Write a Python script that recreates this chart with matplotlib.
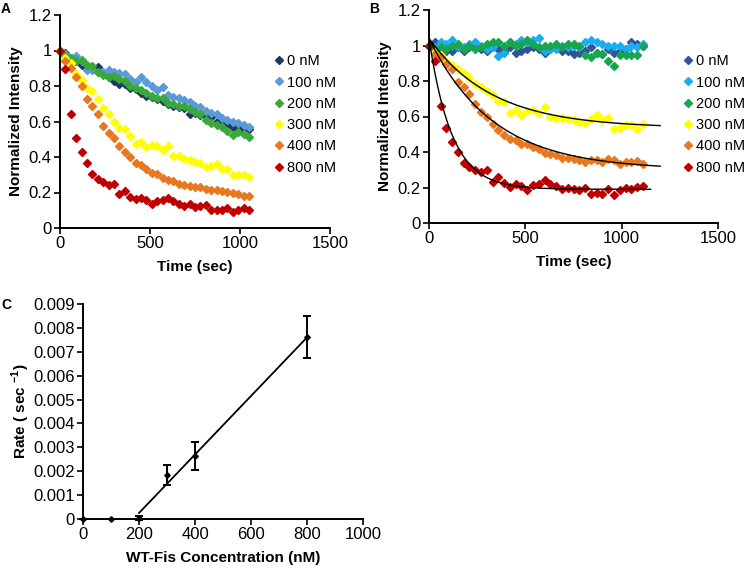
import matplotlib
matplotlib.use('Agg')
import matplotlib.pyplot as plt
import numpy as np

plt.rcParams['font.family'] = ['Liberation Sans', 'DejaVu Sans']
plt.rcParams['mathtext.fontset'] = 'custom'
plt.rcParams['mathtext.rm'] = 'Liberation Sans'
plt.rcParams['mathtext.bf'] = 'Liberation Sans:bold'
plt.rcParams['font.size'] = 11

labels = ['0 nM', '100 nM', '200 nM', '300 nM', '400 nM', '800 nM']

# ---- panel A: time course, 30 s steps up to 1050 s
time_a = list(range(0, 1051, 30))
a_0 = [1.0, 0.985, 0.96, 0.94, 0.92, 0.91, 0.90, 0.905, 0.87, 0.85, 0.83, 0.81,
       0.81, 0.79, 0.785, 0.76, 0.745, 0.74, 0.725, 0.715, 0.70, 0.69, 0.68, 0.675,
       0.645, 0.65, 0.635, 0.63, 0.625, 0.60, 0.59, 0.58, 0.57, 0.565, 0.56, 0.56]
a_100 = [1.0, 0.98, 0.96, 0.97, 0.94, 0.89, 0.89, 0.88, 0.88, 0.89, 0.88, 0.875,
         0.87, 0.84, 0.82, 0.85, 0.82, 0.80, 0.78, 0.795, 0.75, 0.74, 0.73, 0.72,
         0.71, 0.69, 0.68, 0.66, 0.65, 0.64, 0.62, 0.61, 0.60, 0.59, 0.58, 0.57]
a_200 = [1.0, 0.97, 0.96, 0.94, 0.945, 0.92, 0.915, 0.88, 0.86, 0.85, 0.855, 0.84,
         0.83, 0.80, 0.79, 0.78, 0.76, 0.745, 0.735, 0.73, 0.705, 0.70, 0.69, 0.685,
         0.67, 0.655, 0.64, 0.61, 0.59, 0.58, 0.57, 0.545, 0.525, 0.54, 0.53, 0.515]
a_300 = [1.0, 0.957, 0.93, 0.87, 0.835, 0.79, 0.77, 0.726, 0.675, 0.64, 0.60, 0.566,
         0.557, 0.52, 0.475, 0.482, 0.454, 0.465, 0.463, 0.44, 0.46, 0.407, 0.403, 0.388,
         0.385, 0.373, 0.366, 0.343, 0.347, 0.36, 0.334, 0.334, 0.30, 0.30, 0.30, 0.29]
a_400 = [1.0, 0.94, 0.90, 0.85, 0.80, 0.726, 0.69, 0.64, 0.576, 0.535, 0.506, 0.46,
         0.426, 0.40, 0.366, 0.356, 0.332, 0.31, 0.306, 0.28, 0.272, 0.263, 0.25, 0.244,
         0.238, 0.23, 0.229, 0.22, 0.216, 0.216, 0.21, 0.204, 0.20, 0.19, 0.178, 0.178]
a_800 = [1.0, 0.895, 0.64, 0.505, 0.426, 0.366, 0.306, 0.278, 0.26, 0.24, 0.248, 0.19,
         0.206, 0.175, 0.163, 0.17, 0.16, 0.133, 0.154, 0.156, 0.167, 0.154, 0.135, 0.122,
         0.133, 0.118, 0.122, 0.128, 0.10, 0.103, 0.10, 0.11, 0.09, 0.103, 0.113, 0.10]
series_a = [a_0, a_100, a_200, a_300, a_400, a_800]
colors_a = ['#1f3864', '#5b9bd5', '#3aa83a', '#ffff00', '#e8771e', '#c00000']

# ---- panel B: time course, 30 s steps up to 1110 s, with exponential fits
time_b = list(range(0, 1111, 30))
b_0 = [1.0, 1.02, 0.975, 0.97, 0.97, 0.99, 0.97, 0.99, 1.0, 0.98, 0.97, 0.99,
       0.98, 0.97, 0.99, 0.96, 0.97, 0.98, 0.99, 0.98, 0.96, 0.98, 0.99, 0.97,
       0.97, 0.95, 0.96, 0.97, 0.99, 0.96, 0.95, 0.98, 0.96, 0.97, 0.98, 1.02, 1.01, 1.0]
b_100 = [1.0, 0.99, 1.02, 1.01, 1.03, 1.0, 0.99, 1.01, 1.02, 1.0, 0.98, 0.99,
         0.94, 0.96, 1.02, 1.01, 1.03, 1.02, 1.03, 1.04, 0.97, 0.98, 0.98, 1.0,
         0.99, 1.0, 0.99, 1.02, 1.03, 1.02, 1.01, 1.0, 1.0, 1.0, 0.98, 1.0, 0.99, 1.01]
b_200 = [1.0, 0.98, 0.99, 0.98, 1.0, 1.01, 0.98, 1.0, 0.98, 0.99, 1.01, 1.02,
         1.02, 1.0, 1.02, 1.0, 1.01, 1.03, 1.01, 0.99, 1.0, 1.0, 1.01, 0.99,
         1.01, 1.01, 1.0, 0.945, 0.935, 0.96, 0.95, 0.915, 0.887, 0.947, 0.947, 0.947, 0.947, 1.0]
b_300 = [1.0, 0.965, 0.945, 0.915, 0.89, 0.87, 0.845, 0.815, 0.785, 0.765, 0.745, 0.72,
         0.69, 0.68, 0.62, 0.635, 0.61, 0.63, 0.635, 0.62, 0.655, 0.595, 0.59, 0.59,
         0.585, 0.58, 0.57, 0.565, 0.585, 0.61, 0.58, 0.59, 0.53, 0.535, 0.55, 0.55, 0.53, 0.555]
b_400 = [1.0, 0.953, 0.934, 0.897, 0.865, 0.794, 0.765, 0.724, 0.668, 0.625, 0.597, 0.559,
         0.522, 0.497, 0.475, 0.465, 0.447, 0.443, 0.428, 0.415, 0.397, 0.39, 0.381, 0.368,
         0.365, 0.36, 0.355, 0.345, 0.355, 0.355, 0.345, 0.36, 0.355, 0.335, 0.345, 0.345, 0.35, 0.335]
b_800 = [1.0, 0.91, 0.66, 0.535, 0.455, 0.40, 0.34, 0.315, 0.30, 0.285, 0.30, 0.23,
         0.26, 0.225, 0.205, 0.22, 0.21, 0.185, 0.215, 0.22, 0.24, 0.22, 0.21, 0.19,
         0.20, 0.19, 0.185, 0.195, 0.165, 0.17, 0.165, 0.19, 0.16, 0.185, 0.20, 0.19, 0.205, 0.21]
series_b = [b_0, b_100, b_200, b_300, b_400, b_800]
colors_b = ['#2f5597', '#1aaeee', '#17a550', '#ffff00', '#e8771e', '#c00000']

# single exponential fits for 300, 400, 800 nM
fit_start = 1.04
fit_plateau = [0.535, 0.30, 0.19]
fit_rate = [0.003, 0.003, 0.0085]
fit_end = [1200, 1200, 1150]

# ---- panel C: rate vs concentration
conc = [0, 100, 200, 300, 400, 800]
rate = [0.0, 0.0, 0.00005, 0.00183, 0.00265, 0.0076]
rate_err = [0.0, 0.0, 0.00008, 0.00041, 0.00058, 0.00088]
line_x = [200, 800]
line_slope = 1.225e-5
line_icept = -0.0022

fig = plt.figure(figsize=(7.5, 5.68), dpi=100)
W, H = 750.0, 568.0


def px_axes(left, top, right, bottom):
    return fig.add_axes([left / W, 1 - bottom / H, (right - left) / W, (bottom - top) / H])


def style(ax):
    for s in ['top', 'right']:
        ax.spines[s].set_visible(False)
    for s in ['left', 'bottom']:
        ax.spines[s].set_linewidth(1.4)
    ax.tick_params(direction='out', length=4, width=1.2, labelsize=12, pad=2)


fmt = matplotlib.ticker.FuncFormatter(lambda v, p: '{:g}'.format(round(v, 6)))
leg_kw = dict(loc='upper left', bbox_transform=fig.transFigure, frameon=False, numpoints=1,
              handlelength=0.6, handletextpad=0.3, labelspacing=0.5, borderpad=0,
              fontsize=10.5, markerscale=1.0)

axA = px_axes(60, 15, 330, 228)
for ys, c, lab in zip(series_a, colors_a, labels):
    axA.plot(time_a, ys, 'D', color=c, ms=3.7, label=lab, clip_on=False)
axA.set_xlim(0, 1500)
axA.set_ylim(0, 1.2)
axA.set_xticks([0, 500, 1000, 1500])
axA.set_yticks(np.arange(0, 1.21, 0.2))
axA.yaxis.set_major_formatter(fmt)
axA.set_xlabel('Time (sec)', fontweight='bold', fontsize=11, labelpad=6)
axA.set_ylabel('Normalized Intensity', fontweight='bold', fontsize=11)
style(axA)
axA.legend(bbox_to_anchor=(267 / W, 1 - 47 / H), **leg_kw)

axB = px_axes(429, 10, 718, 223)
for ys, c, lab in zip(series_b, colors_b, labels):
    axB.plot(time_b, ys, 'D', color=c, ms=3.7, label=lab, clip_on=False)
for p, k, tend in zip(fit_plateau, fit_rate, fit_end):
    tt = np.linspace(0, tend, 300)
    axB.plot(tt, p + (fit_start - p) * np.exp(-k * tt), color='black', lw=1.0)
axB.set_xlim(0, 1500)
axB.set_ylim(0, 1.2)
axB.set_xticks([0, 500, 1000, 1500])
axB.set_yticks(np.arange(0, 1.21, 0.2))
axB.yaxis.set_major_formatter(fmt)
axB.set_xlabel('Time (sec)', fontweight='bold', fontsize=11, labelpad=6)
axB.set_ylabel('Normalized Intensity', fontweight='bold', fontsize=11)
style(axB)
axB.legend(bbox_to_anchor=(676 / W, 1 - 47 / H), **leg_kw)

axC = px_axes(83, 304, 363, 519)
axC.errorbar(conc, rate, yerr=rate_err, fmt='D', color='black', ms=2.8, elinewidth=1.4,
             capsize=3, capthick=1.4, clip_on=False)
lx = np.array(line_x)
axC.plot(lx, line_slope * lx + line_icept, color='black', lw=1.3)
axC.set_xlim(0, 1000)
axC.set_ylim(0, 0.009)
axC.set_xticks(range(0, 1001, 200))
axC.set_yticks(np.arange(0, 0.0091, 0.001))
axC.yaxis.set_major_formatter(fmt)
axC.set_xlabel('WT-Fis Concentration (nM)', fontweight='bold', fontsize=11, labelpad=6)
axC.set_ylabel(r'Rate ( sec $^{\mathbf{-1}}$)', fontweight='bold', fontsize=11, labelpad=1)
style(axC)

fig.text(1 / W, 1 - 9 / H, 'A', fontweight='bold', fontsize=10, va='center')
fig.text(369 / W, 1 - 9 / H, 'B', fontweight='bold', fontsize=10, va='center')
fig.text(1 / W, 1 - 305 / H, 'C', fontweight='bold', fontsize=10, va='center')

fig.savefig('out.png', dpi=100)
